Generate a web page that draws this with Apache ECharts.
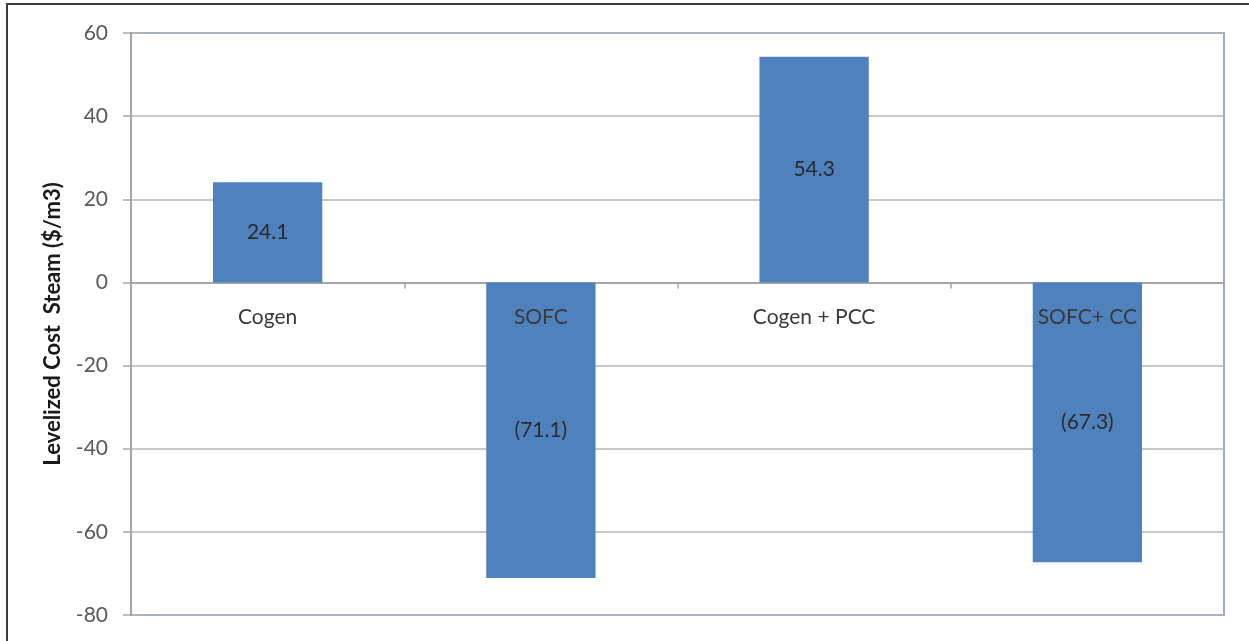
<!DOCTYPE html>
<html>
<head>
<meta charset="utf-8">
<script src="https://cdn.jsdelivr.net/npm/echarts@6/dist/echarts.min.js"></script>
<style>
  html, body { margin: 0; padding: 0; background: #fff; }
  #wrap { position: relative; width: 1249px; height: 641px; overflow: hidden; }
  #frame { position: absolute; left: 6px; top: 3px; width: 1300px; height: 700px;
           border-top: 2px solid #3c3c3c; border-left: 2px solid #3c3c3c; pointer-events: none; }
  #main { position: absolute; left: 0; top: 0; width: 1249px; height: 641px; }
</style>
</head>
<body>
<div id="wrap">
  <div id="main"></div>
  <div id="frame"></div>
</div>
<script>
// 图表数据
const categories = ['Cogen', 'SOFC', 'Cogen + PCC', 'SOFC+ CC'];
const costValues = [24.1, -71.1, 54.3, -67.3];
const yTicks = [-80, -60, -40, -20, 0, 20, 40, 60];

const font = 'Lato, "Liberation Sans", sans-serif';

const myChart = echarts.init(document.getElementById('main'));
myChart.setOption({
    animation: false,
    textStyle: { fontFamily: font },
    grid: {
        left: 131, right: 25, top: 33, bottom: 26,
        outerBoundsMode: 'none',
        show: true,
        borderColor: '#93AED3',
        borderWidth: 2
    },
    xAxis: {
        type: 'category',
        data: categories,
        axisLine: { onZero: true, lineStyle: { color: '#A6A6A6', width: 2 } },
        axisTick: { show: true, length: 6, lineStyle: { color: '#A6A6A6', width: 1.5 } },
        axisLabel: { show: false }
    },
    yAxis: {
        type: 'value',
        min: yTicks[0],
        max: yTicks[yTicks.length - 1],
        interval: 20,
        name: 'Levelized Cost  Steam ($/m3)',
        nameLocation: 'middle',
        nameGap: 67,
        nameTextStyle: { fontSize: 22, fontWeight: 'bold', color: '#1a1a1a', fontFamily: font },
        axisLine: { show: true, lineStyle: { color: '#A6A6A6', width: 2 } },
        axisTick: { show: true, length: 8, lineStyle: { color: '#A6A6A6', width: 1.5 } },
        axisLabel: { margin: 23, fontSize: 21, color: '#595959', fontFamily: font },
        splitLine: { lineStyle: { color: '#B5B5B5', width: 1.5 } }
    },
    series: [
        {
            type: 'bar',
            data: costValues,
            barWidth: '40%',
            itemStyle: { color: '#4F81BD' },
            label: {
                show: true,
                position: 'inside',
                fontSize: 21,
                color: '#2a2a2a',
                fontFamily: font,
                formatter: p => p.value < 0 ? '(' + Math.abs(p.value).toFixed(1) + ')' : p.value.toFixed(1)
            }
        },
        {
            // category labels sitting just under the zero line
            type: 'bar',
            data: categories.map(() => 0),
            barWidth: '40%',
            barGap: '-100%',
            silent: true,
            itemStyle: { color: 'transparent' },
            label: {
                show: true,
                position: 'bottom',
                distance: 24,
                fontSize: 21,
                color: '#3a3a3a',
                textBorderColor: 'transparent',
                textBorderWidth: 0,
                fontFamily: font,
                formatter: p => p.name
            }
        }
    ]
});
</script>
</body>
</html>
